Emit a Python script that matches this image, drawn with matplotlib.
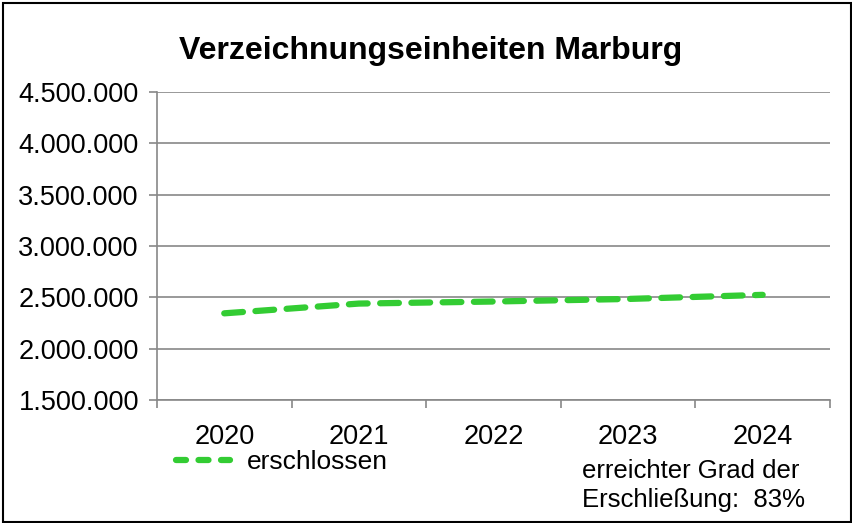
import matplotlib.pyplot as plt
from matplotlib.ticker import FuncFormatter
from matplotlib.lines import Line2D
from matplotlib.patches import Rectangle

years = ['2020', '2021', '2022', '2023', '2024']
erschlossen = [2345000, 2440000, 2460000, 2485000, 2525000]
grad = 83

plt.rcParams['font.family'] = ['Liberation Sans', 'DejaVu Sans']

fig = plt.figure(figsize=(8.53, 5.23), dpi=100)
ax = fig.add_axes([0.184, 0.235, 0.789, 0.589])

x = list(range(len(years)))
ax.plot(x, erschlossen, color='#33cc33', lw=4.5, dashes=(3, 2),
        dash_capstyle='round', solid_capstyle='round')

ax.set_xlim(-0.5, len(years) - 0.5)
ax.set_ylim(1500000, 4500000)
ax.set_yticks(range(1500000, 4500001, 500000))
ax.yaxis.set_major_formatter(FuncFormatter(lambda v, p: f'{int(v):,}'.replace(',', '.')))
ax.grid(axis='y', color='#888888', lw=1.2)
ax.set_axisbelow(True)

ax.set_xticks(x)
ax.set_xticklabels(years)
ax.set_xticks([i - 0.5 for i in range(len(years) + 1)], minor=True)
ax.tick_params(axis='x', which='major', length=0, pad=17, labelsize=19.5)
ax.tick_params(axis='x', which='minor', length=6, color='#888888', width=1.2)
ax.tick_params(axis='y', length=6, color='#888888', width=1.2, labelsize=19.5, pad=7)

for s in ['top', 'right']:
    ax.spines[s].set_visible(False)
for s in ['left', 'bottom']:
    ax.spines[s].set_color('#888888')
    ax.spines[s].set_linewidth(1.2)

fig.text(0.505, 0.902, 'Verzeichnungseinheiten Marburg', ha='center', va='center',
         fontsize=23, fontweight='bold')

fig.add_artist(Line2D([0.206, 0.270], [0.12, 0.12], color='#33cc33', lw=4.5,
                      dashes=(1.6, 2.0), dash_capstyle='round'))
fig.text(0.29, 0.117, 'erschlossen', va='center', fontsize=19)
fig.text(0.682, 0.071, f'erreichter Grad der\nErschließung:  {grad}%', va='center',
         fontsize=18.5, linespacing=1.27)

fig.add_artist(Rectangle((0.004, 0.001), 0.994, 0.993, transform=fig.transFigure,
                         fill=False, ec='black', lw=1.5))

fig.savefig('out.png', dpi=100)
